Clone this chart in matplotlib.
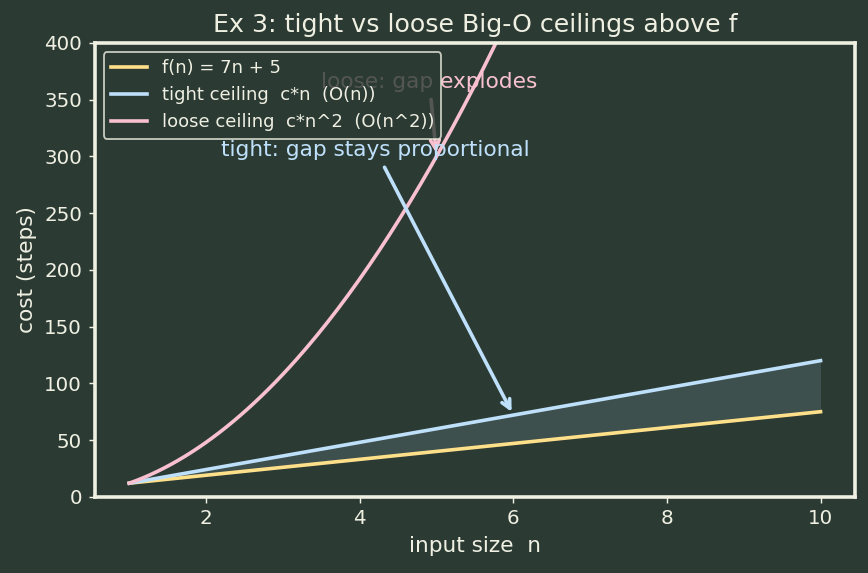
import numpy as np
import matplotlib.pyplot as plt

# data
n = np.linspace(1, 10, 200)
f_a, f_b = 7, 5          # f(n) = 7n + 5
c_tight = 12             # c*n
c_loose = 12             # c*n^2
f_vals = f_a * n + f_b
tight_vals = c_tight * n
loose_vals = c_loose * n ** 2

bg = "#2b3b34"
fg = "#efefe2"
col_f = "#ffe08a"
col_tight = "#bfe0fb"
col_loose = "#f9c1cf"

plt.rcParams["font.family"] = "DejaVu Sans"
fig, ax = plt.subplots(figsize=(8.69 / 1.3, 5.73 / 1.3), dpi=130)
fig.patch.set_facecolor(bg)
ax.set_facecolor(bg)

ax.plot(n, f_vals, color=col_f, lw=2, label="f(n) = 7n + 5")
ax.plot(n, tight_vals, color=col_tight, lw=2, label="tight ceiling  c*n  (O(n))")
ax.plot(n, loose_vals, color=col_loose, lw=2, label="loose ceiling  c*n^2  (O(n^2))")
ax.fill_between(n, f_vals, tight_vals, color=col_tight, alpha=0.13, lw=0)

ax.set_ylim(0, 400)

ax.annotate("loose: gap explodes", xy=(5, c_loose * 25), xytext=(3.5, 360),
            color=col_loose, fontsize=12,
            arrowprops=dict(arrowstyle="->", color=col_loose, lw=2))
ax.annotate("tight: gap stays proportional", xy=(6, c_tight * 6), xytext=(2.2, 300),
            color=col_tight, fontsize=12,
            arrowprops=dict(arrowstyle="->", color=col_tight, lw=2))

leg = ax.legend(loc="upper left", fontsize=10, facecolor=bg, edgecolor=fg,
                framealpha=0.8, labelcolor=fg)
leg.set_zorder(5)

ax.set_title("Ex 3: tight vs loose Big-O ceilings above f", color=fg, fontsize=14)
ax.set_xlabel("input size  n", color=fg, fontsize=12)
ax.set_ylabel("cost (steps)", color=fg, fontsize=12)
ax.tick_params(colors=fg, labelsize=11)
for s in ax.spines.values():
    s.set_color(fg)
    s.set_linewidth(2)

fig.subplots_adjust(left=0.109, right=0.984, top=0.925, bottom=0.133)
plt.savefig("out.png", facecolor=bg)
